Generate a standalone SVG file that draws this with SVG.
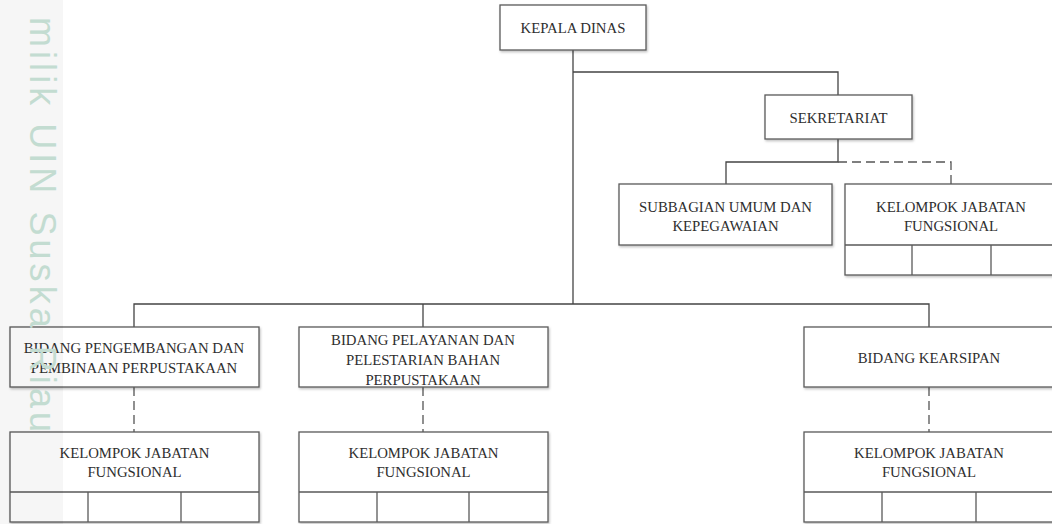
<svg xmlns="http://www.w3.org/2000/svg" width="1052" height="524" viewBox="0 0 1052 524">
<defs>
<filter id="sh" x="-5%" y="-10%" width="110%" height="130%">
<feDropShadow dx="1" dy="1.5" stdDeviation="1" flood-color="#000" flood-opacity="0.25"/>
</filter>
</defs>
<style>
.box{fill:#fff;stroke:#5a5a5a;stroke-width:1.3;filter:url(#sh)}
.cell{fill:none;stroke:#5a5a5a;stroke-width:1.3}
.t{font-family:"Liberation Serif","Times New Roman",serif;font-size:14.75px;fill:#2e2e2e;text-anchor:middle}
.c{fill:none;stroke:#444;stroke-width:1.3}
.d{fill:none;stroke:#555;stroke-width:1.3;stroke-dasharray:9 5}
.wm{font-family:"Liberation Sans",Arial,sans-serif;font-size:36px;fill:#c3dcd1}
</style>
<rect width="1052" height="524" fill="#fff"/>

<g id="connectors">
<path class="c" d="M573,50 V304"/>
<path class="c" d="M573,72 H838 V95"/>
<path class="c" d="M838,139 V162 H726 V184"/>
<path class="d" d="M838,162 H951 V184"/>
<path class="c" d="M134,327 V304 H929 V327"/>
<path class="c" d="M423,304 V327"/>
<path class="d" d="M134,387 V432"/>
<path class="d" d="M423,387 V432"/>
<path class="d" d="M929,387 V432"/>
</g>

<g id="kepala-dinas">
<rect class="box" x="500" y="5" width="146" height="45"/>
<text class="t" x="573" y="32.5">KEPALA DINAS</text>
</g>

<g id="sekretariat">
<rect class="box" x="765" y="95" width="147" height="44"/>
<text class="t" x="838.5" y="122.5">SEKRETARIAT</text>
</g>

<g id="subbagian-umum">
<rect class="box" x="619" y="184" width="213" height="61"/>
<text class="t" x="725.5" y="211.5">SUBBAGIAN UMUM DAN</text>
<text class="t" x="725.5" y="230.5">KEPEGAWAIAN</text>
</g>

<g id="kjf-sekretariat">
<rect class="box" x="845" y="184" width="212" height="91"/>
<path class="cell" d="M845,245 H1057 M912,245 V275 M991,245 V275"/>
<text class="t" x="951" y="211.5">KELOMPOK JABATAN</text>
<text class="t" x="951" y="230.5">FUNGSIONAL</text>
</g>

<g id="bidang-pengembangan">
<rect class="box" x="10" y="327" width="249" height="60"/>
<text class="t" x="134" y="353">BIDANG PENGEMBANGAN DAN</text>
<text class="t" x="134" y="373">PEMBINAAN PERPUSTAKAAN</text>
</g>

<g id="bidang-pelayanan">
<rect class="box" x="299" y="327" width="249" height="60"/>
<text class="t" x="423" y="345">BIDANG PELAYANAN DAN</text>
<text class="t" x="423" y="365">PELESTARIAN BAHAN</text>
<text class="t" x="423" y="385">PERPUSTAKAAN</text>
</g>

<g id="bidang-kearsipan">
<rect class="box" x="804" y="327" width="250" height="60"/>
<text class="t" x="929" y="363">BIDANG KEARSIPAN</text>
</g>

<g id="kjf-pengembangan">
<rect class="box" x="10" y="432" width="249" height="90"/>
<path class="cell" d="M10,492 H259 M88,492 V522 M181,492 V522"/>
<text class="t" x="134.5" y="458">KELOMPOK JABATAN</text>
<text class="t" x="134.5" y="477">FUNGSIONAL</text>
</g>

<g id="kjf-pelayanan">
<rect class="box" x="299" y="432" width="249" height="90"/>
<path class="cell" d="M299,492 H548 M377,492 V522 M469,492 V522"/>
<text class="t" x="423.5" y="458">KELOMPOK JABATAN</text>
<text class="t" x="423.5" y="477">FUNGSIONAL</text>
</g>

<g id="kjf-kearsipan">
<rect class="box" x="804" y="432" width="250" height="90"/>
<path class="cell" d="M804,492 H1054 M882,492 V522 M976,492 V522"/>
<text class="t" x="929" y="458">KELOMPOK JABATAN</text>
<text class="t" x="929" y="477">FUNGSIONAL</text>
</g>

<g id="watermark">
<rect x="0" y="0" width="63" height="524" fill="#000" opacity="0.035"/>
<text class="wm" transform="translate(30,17) rotate(90)" textLength="415" lengthAdjust="spacing">milik UIN Suska Riau</text>
</g>
</svg>
